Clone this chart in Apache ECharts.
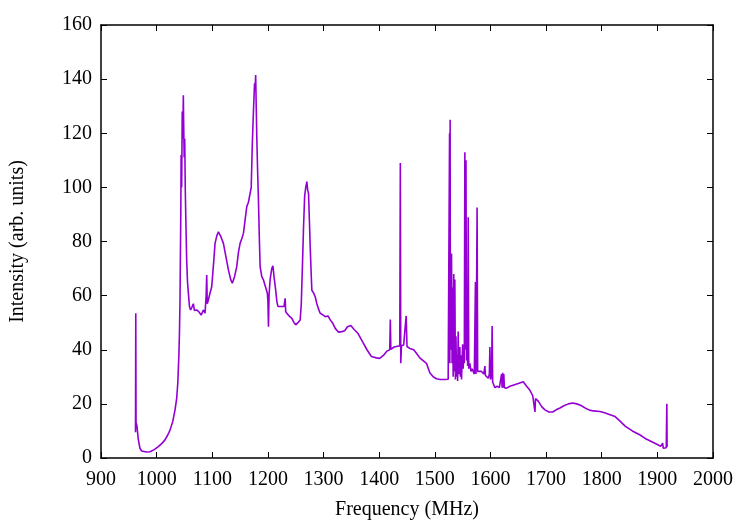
<!DOCTYPE html>
<html>
<head>
  <meta charset="utf-8">
  <title>Spectrum</title>
  <script src="https://cdn.jsdelivr.net/npm/echarts@6/dist/echarts.min.js"></script>
  <style>
    html, body { margin: 0; padding: 0; background: #fff; }
    #chart { width: 750px; height: 525px; }
  </style>
</head>
<body>
<div id="chart"></div>
<script>
// frequency (MHz) and intensity
var freq = [
  962, 962.5, 963, 964.5, 966, 967, 970, 973, 976, 982, 988, 995, 1003, 1010, 1015, 1020, 1024, 1029, 1033, 1036,
  1038, 1040, 1041, 1042, 1042.5, 1043.5, 1044, 1045, 1046, 1047, 1048, 1048.5, 1049.5, 1050.5, 1051.5, 1052.5, 1054, 1055.5, 1057, 1059,
  1061, 1063, 1066, 1068, 1072, 1076, 1080, 1084, 1087, 1089, 1090, 1091, 1093, 1096, 1099, 1102, 1105, 1108, 1111, 1115,
  1120, 1124, 1129, 1133, 1136, 1140, 1144, 1147, 1150, 1153, 1156, 1159, 1162, 1165, 1168, 1170, 1172, 1174, 1176, 1177,
  1178, 1179, 1180, 1181.5, 1183, 1184.5, 1186, 1189, 1192, 1196, 1199, 1200, 1201, 1202, 1204, 1207, 1209, 1211, 1214, 1216,
  1218, 1222, 1225, 1229, 1231, 1232, 1234, 1238, 1243, 1247, 1250, 1254, 1258, 1260, 1262, 1264, 1266, 1268, 1270, 1271.5,
  1273, 1275, 1276, 1278, 1279, 1282, 1285, 1288, 1291, 1294, 1298, 1303, 1308, 1312, 1316, 1321, 1327, 1333, 1338, 1343,
  1349, 1355, 1362, 1370, 1378, 1386, 1395, 1401, 1408, 1414, 1419, 1420, 1421, 1427, 1433, 1437, 1438, 1438.8, 1440, 1444,
  1447, 1448.5, 1450, 1455, 1462, 1467, 1473, 1479, 1485, 1491, 1497, 1503, 1510, 1517, 1524, 1525.5, 1526.5, 1527, 1527.5, 1528,
  1529, 1530, 1531, 1532, 1533, 1534, 1535, 1536, 1537, 1538, 1539, 1540, 1541, 1542, 1543, 1544, 1545, 1546, 1547, 1548,
  1550, 1551, 1552, 1553, 1554, 1555, 1556, 1557, 1558, 1559, 1560, 1561, 1563, 1565, 1567, 1569, 1571, 1573, 1574, 1576,
  1577, 1580, 1584, 1588, 1590, 1591, 1593, 1596, 1598, 1599, 1600, 1602, 1603, 1604, 1606, 1608, 1612, 1616, 1619, 1620,
  1621, 1622, 1623, 1624, 1625, 1629, 1635, 1642, 1650, 1659, 1665, 1671, 1676, 1679, 1680, 1681, 1686, 1692, 1698, 1705,
  1712, 1718, 1725, 1732, 1740, 1748, 1755, 1762, 1770, 1778, 1785, 1797, 1805, 1815, 1824, 1832, 1842, 1855, 1869, 1880,
  1890, 1900, 1906, 1908.5, 1909.5, 1910.5, 1913, 1916, 1917, 1917.5
];
var intensity = [
  9.5, 53.5, 13, 12, 12.5, 7, 3.6, 2.6, 2.3, 2.2, 2.3, 3.0, 4.2, 5.5, 6.7, 8.5, 10.3, 13.5, 17.7, 22,
  27.6, 38, 46, 58, 70, 92, 112, 100, 128, 118, 134, 125, 111, 118, 99, 88, 73, 65, 61, 56,
  54.7, 55.5, 57, 54.5, 54.7, 54, 52.8, 54.7, 53.5, 60, 67.6, 57, 58.4, 61, 63.3, 71, 79.3, 82, 83.6, 82,
  79.3, 75, 69.5, 66, 64.6, 67, 70.7, 76, 79.3, 81, 83, 88, 92.9, 94.5, 94.1, 100, 116.3, 128, 138.5, 136,
  141.5, 130, 118.7, 106, 95.3, 82, 70.7, 67, 65.8, 63, 60.9, 58, 48.5, 60, 66, 70.1, 71, 67, 62, 58,
  56, 56, 55.3, 56, 59, 54, 53.5, 52.5, 51.6, 50, 49.2, 50, 51, 57, 70.7, 85, 96.6, 100, 102.1, 99,
  97.8, 85, 78.1, 67, 62, 61, 59.6, 57, 55, 53.5, 53, 52.2, 52.5, 51, 50, 47.9, 46.5, 46.7, 47, 48.5,
  49, 47.5, 46, 43, 40, 37.5, 37, 36.8, 38, 39.5, 40, 51.2, 40.2, 41, 41.3, 41.5, 109, 35, 41.5, 41.8,
  42, 52.5, 41.2, 40.5, 40, 38.7, 37, 36, 35, 31.5, 30, 29.3, 29, 29, 29.1, 29, 120, 35, 125, 40,
  65, 75.6, 35, 63, 30, 68, 32, 66, 29, 45, 30, 38, 28.5, 46.7, 31, 36, 41, 30, 38, 29,
  42, 33, 40, 35, 113, 40, 110, 36, 60, 34, 89, 33, 35, 32, 33, 32, 31, 65, 31, 92.6,
  32, 31.5, 32, 31, 34, 30.5, 30, 29.5, 31, 41, 29, 30, 48.8, 28, 27, 26, 26.5, 26, 26.5, 31,
  26, 31.5, 26, 31, 26, 25.8, 26.5, 27, 27.5, 28.2, 26.5, 25, 23, 22.3, 17, 22, 21, 19, 17.8, 17,
  17, 17.8, 18.5, 19.3, 20, 20.3, 20, 19.5, 18.5, 17.7, 17.4, 17.2, 16.7, 16, 15.3, 13.8, 11.8, 10, 8.5, 7,
  6, 5, 4.3, 3.8, 5.5, 3.6, 3.3, 3.8, 20, 4.2
];

var xMin = 900, xMax = 2000, xStep = 100;
var yMin = 0, yMax = 160, yStep = 20;

var points = freq.map(function (f, i) { return [f, intensity[i]]; });

var font = '"Liberation Serif", "Times New Roman", serif';
var black = '#000';
var plain = function (v) { return String(v); };   // no thousands separator

function xAx(pos, labels) {
  return {
    type: 'value', position: pos, min: xMin, max: xMax, interval: xStep,
    name: labels ? 'Frequency (MHz)' : '', nameLocation: 'middle', nameGap: 42,
    nameTextStyle: { fontFamily: font, fontSize: 20, color: black },
    axisLine: { show: true, onZero: false, lineStyle: { color: black, width: 1.5 } },
    axisTick: { show: true, inside: true, length: 6, lineStyle: { color: black } },
    axisLabel: { show: labels, fontFamily: font, fontSize: 20, color: black, margin: 12, formatter: plain },
    splitLine: { show: false }
  };
}
function yAx(pos, labels) {
  return {
    type: 'value', position: pos, min: yMin, max: yMax, interval: yStep,
    name: labels ? 'Intensity (arb. units)' : '', nameLocation: 'middle', nameGap: 73,
    nameTextStyle: { fontFamily: font, fontSize: 20, color: black },
    axisLine: { show: true, onZero: false, lineStyle: { color: black, width: 1.5 } },
    axisTick: { show: true, inside: true, length: 6, lineStyle: { color: black } },
    axisLabel: { show: labels, fontFamily: font, fontSize: 20, color: black, margin: 9, formatter: plain },
    splitLine: { show: false }
  };
}

var myChart = echarts.init(document.getElementById('chart'));
var option = {
  animation: false,
  backgroundColor: '#fff',
  grid: { left: 101, right: 37, top: 25, bottom: 67 },
  xAxis: [xAx('bottom', true), xAx('top', false)],
  yAxis: [yAx('left', true), yAx('right', false)],
  series: [{
    type: 'line',
    data: points,
    showSymbol: false,
    lineStyle: { color: '#9400d3', width: 1.6 },
    z: 3
  }]
};
myChart.setOption(option);
</script>
</body>
</html>
